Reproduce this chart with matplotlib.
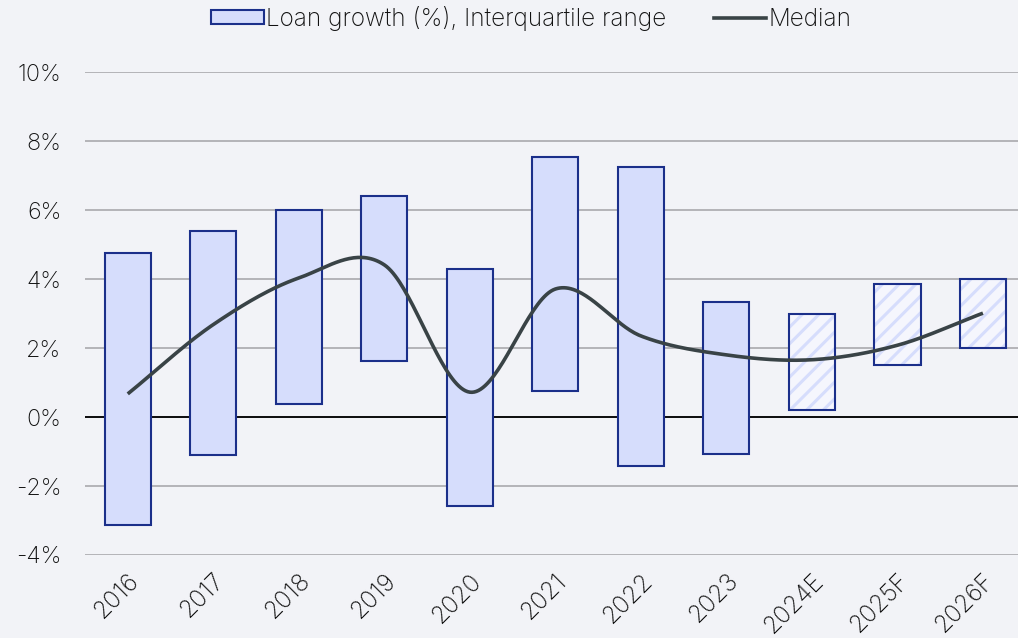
import numpy as np
import matplotlib
matplotlib.use("Agg")
import matplotlib.pyplot as plt
from matplotlib.patches import Patch
from matplotlib.lines import Line2D

plt.rcParams['font.family'] = ['Inter', 'DejaVu Sans']
plt.rcParams['font.weight'] = 'light'
plt.rcParams['hatch.linewidth'] = 2.2

categories = ["2016", "2017", "2018", "2019", "2020", "2021", "2022", "2023", "2024E", "2025F", "2026F"]
iqr_low = [-3.13, -1.10, 0.38, 1.62, -2.58, 0.75, -1.42, -1.07, 0.20, 1.51, 2.00]
iqr_high = [4.75, 5.39, 6.00, 6.41, 4.29, 7.54, 7.25, 3.33, 2.99, 3.86, 4.00]
median = [0.67, 2.68, 4.03, 4.41, 0.72, 3.71, 2.35, 1.80, 1.66, 2.08, 3.01]
forecast = [False] * 8 + [True] * 3
yticks = [-4, -2, 0, 2, 4, 6, 8, 10]

BG = "#f2f3f7"
FILL = "#d6ddfc"
EDGE = "#1b2f8a"
LINE = "#394346"
TXT = "#111111"


def catmull_rom(x, y, n=40):
    x = np.asarray(x, float)
    y = np.asarray(y, float)
    P = np.column_stack([x, y])
    P = np.vstack([2 * P[0] - P[1], P, 2 * P[-1] - P[-2]])
    out = []
    for i in range(1, len(P) - 2):
        p0, p1, p2, p3 = P[i - 1], P[i], P[i + 1], P[i + 2]
        t = np.linspace(0, 1, n)[:, None]
        c1 = p1 + (p2 - p0) / 6
        c2 = p2 - (p3 - p1) / 6
        seg = ((1 - t) ** 3) * p1 + 3 * ((1 - t) ** 2) * t * c1 + 3 * (1 - t) * t ** 2 * c2 + t ** 3 * p2
        out.append(seg if i == 1 else seg[1:])
    out = np.vstack(out)
    return out[:, 0], out[:, 1]


fig = plt.figure(figsize=(10.18, 6.38), dpi=100, facecolor=BG)
ax = fig.add_axes([0.0835, 0.1301, 0.9165, 0.757])
ax.set_facecolor(BG)

x = np.arange(len(categories))
low = np.array(iqr_low)
high = np.array(iqr_high)
for xi, lo, hi, fc in zip(x, low, high, forecast):
    if fc:
        ax.bar(xi, hi - lo, bottom=lo, width=0.54, facecolor="#f5f6fd",
               edgecolor=FILL, hatch="//", linewidth=0, zorder=2)
        ax.bar(xi, hi - lo, bottom=lo, width=0.54, facecolor="none",
               edgecolor=EDGE, linewidth=1.5, zorder=3)
    else:
        ax.bar(xi, hi - lo, bottom=lo, width=0.54, facecolor=FILL,
               edgecolor=EDGE, linewidth=1.5, zorder=3)

sx, sy = catmull_rom(x, median)
ax.plot(sx, sy, color=LINE, linewidth=2.6, zorder=4, solid_capstyle="butt")

ax.axhline(0, color="black", linewidth=1.3, zorder=2.5)
ax.set_ylim(-4, 10)
ax.set_xlim(-0.5, 10.41)
ax.set_yticks(yticks)
ax.set_yticklabels([f"{v}%" for v in yticks], fontsize=16.8)
ax.yaxis.grid(True, color="#a9a9ad", linewidth=1.2, zorder=0)
ax.set_axisbelow(True)
ax.set_xticks(x)
ax.set_xticklabels(categories, rotation=45, ha="right", rotation_mode="anchor",
                   fontsize=17.5)
ax.tick_params(axis="both", length=0, colors=TXT)
ax.tick_params(axis="y", pad=17)
ax.tick_params(axis="x", pad=10)
for s in ax.spines.values():
    s.set_visible(False)

handles = [Patch(facecolor=FILL, edgecolor=EDGE, linewidth=1.5),
           Line2D([0], [0], color=LINE, linewidth=2.6)]
leg = fig.legend(handles, ["Loan growth (%), Interquartile range", "Median"],
                 loc="center", bbox_to_anchor=(0.522, 0.971), ncol=2, frameon=False,
                 fontsize=17.5, handlelength=2.15, handleheight=0.5, handletextpad=0.1,
                 columnspacing=1.95)
for t in leg.get_texts():
    t.set_color(TXT)

fig.savefig("out.png", dpi=100, facecolor=BG)
